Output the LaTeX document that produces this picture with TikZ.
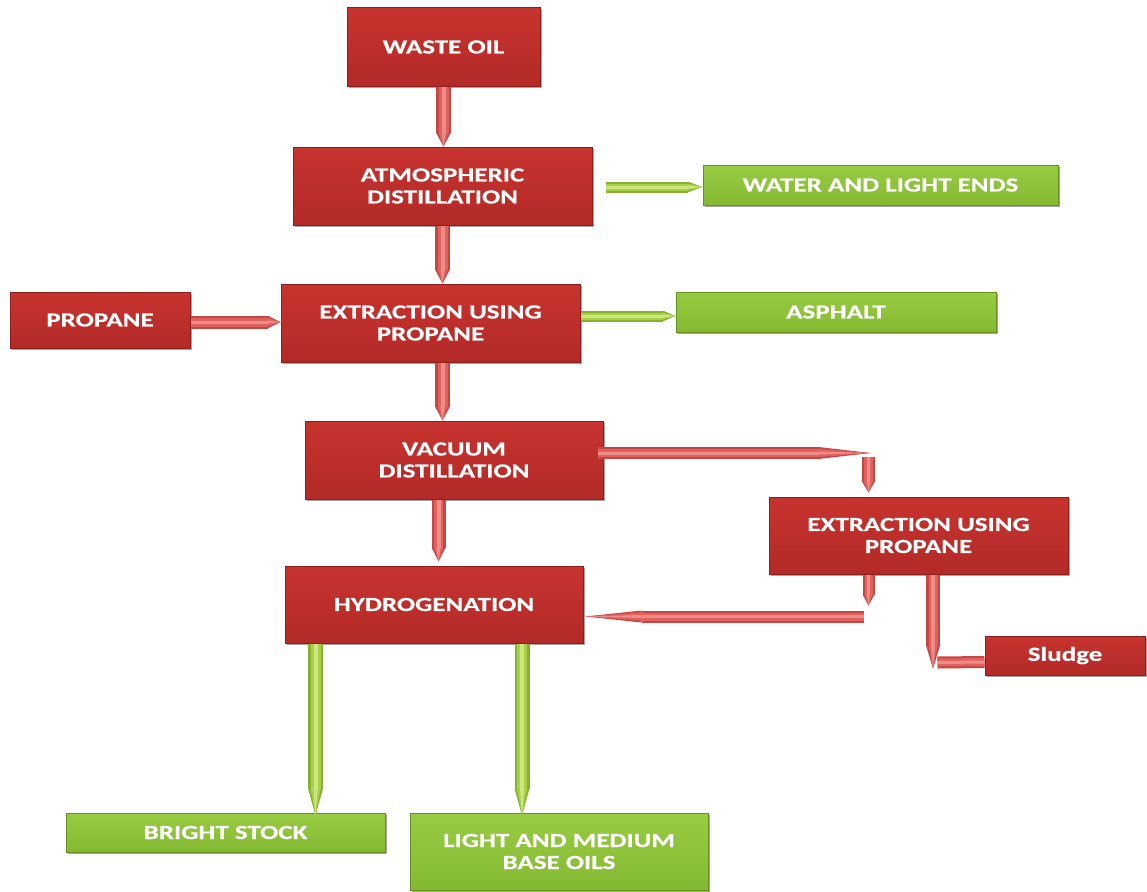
\documentclass[tikz,border=0pt]{standalone}
\usepackage{fontspec}
\setmainfont{Carlito}[FakeStretch=1.35, FakeBold=0.4]
\usetikzlibrary{arrows.meta,calc,shadows}

% box colours
\definecolor{rTop}{HTML}{C8332F}
\definecolor{rBot}{HTML}{B22A27}
\definecolor{rEdge}{HTML}{8E1F1C}
\definecolor{gTop}{HTML}{97CB42}
\definecolor{gBot}{HTML}{84BA32}
\definecolor{gEdge}{HTML}{66921F}
% pipe colours
\definecolor{rpEdge}{HTML}{C64643}
\definecolor{rpBody}{HTML}{E0625E}
\definecolor{rpHi}{HTML}{EE8D88}
\definecolor{gpEdge}{HTML}{86B230}
\definecolor{gpBody}{HTML}{A8D04A}
\definecolor{gpHi}{HTML}{CBE880}

\begin{document}
\begin{tikzpicture}[x=1pt,y=-1pt,
  boxbase/.style={rectangle, line width=1pt, text=white, align=center,
    inner sep=0pt, font=\bfseries\fontsize{20}{22}\selectfont,
    drop shadow={shadow xshift=2pt, shadow yshift=-2pt, opacity=0.35, fill=black}},
  redbox/.style={boxbase, draw=rEdge, top color=rTop, bottom color=rBot},
  greenbox/.style={boxbase, draw=gEdge, top color=gTop, bottom color=gBot},
  % pipe: #1 = outer width, #2 = body width, #3 = highlight width, #4 = tip length
  rpipe/.style n args={4}{line width=#1, draw=rpEdge,
    -{Triangle[length=#4, width=0pt 1, line width=0pt]},
    postaction={draw=rpBody, line width=#2},
    postaction={draw=rpHi, line width=#3}},
  gpipe/.style n args={4}{line width=#1, draw=gpEdge,
    -{Triangle[length=#4, width=0pt 1, line width=0pt]},
    postaction={draw=gpBody, line width=#2},
    postaction={draw=gpHi, line width=#3}},
  rbar/.style={line width=12, draw=rpEdge,
    postaction={draw=rpBody, line width=8},
    postaction={draw=rpHi, line width=3}}
]
\useasboundingbox (0,0) rectangle (1147,891);

% process boxes
\node[redbox, minimum width=193, minimum height=78] (waste) at (443.5,47) {WASTE OIL};
\node[redbox, minimum width=299, minimum height=78] (atmos) at (442.5,186) {ATMOSPHERIC\\DISTILLATION};
\node[greenbox, minimum width=355, minimum height=40] (water) at (880.5,185) {WATER AND LIGHT ENDS};
\node[redbox, minimum width=180, minimum height=56] (propane) at (100,320) {PROPANE};
\node[redbox, minimum width=299, minimum height=78] (ext1) at (430.5,323) {EXTRACTION USING\\PROPANE};
\node[greenbox, minimum width=320, minimum height=40] (asphalt) at (836,312) {ASPHALT};
\node[redbox, minimum width=298, minimum height=78] (vac) at (454,460) {VACUUM\\DISTILLATION};
\node[redbox, minimum width=299, minimum height=77] (ext2) at (918.5,535.5) {EXTRACTION USING\\PROPANE};
\node[redbox, minimum width=298, minimum height=77] (hydro) at (434,604.5) {HYDROGENATION};
\node[redbox, minimum width=160, minimum height=39] (sludge) at (1065,655.5) {Sludge};
\node[greenbox, minimum width=319, minimum height=39] (bright) at (225.5,832.5) {BRIGHT STOCK};
\node[greenbox, minimum width=298, minimum height=77] (light) at (559,851.5) {LIGHT AND MEDIUM\\BASE OILS};

% main column
\draw[rpipe={15}{10}{4}{14}] (waste.south) -- (waste.south |- atmos.north);
\draw[rpipe={15}{10}{4}{14}] (atmos.south) -- (atmos.south |- ext1.north);
\coordinate (c3) at ($(ext1.south)+(12,0)$);
\draw[rpipe={15}{10}{4}{14}] (c3) -- (c3 |- vac.north);
\coordinate (c4) at ($(vac.south)+(-15.5,0)$);
\draw[rpipe={14}{9}{4}{14}] (c4) -- ($(c4 |- hydro.north)+(0,-4)$);

% side streams
\draw[gpipe={11}{7}{3}{15}] ($(atmos.east)+(13,1)$) -- ($(water.west)+(0,2)$);
\draw[rpipe={13}{9}{3}{13}] ($(propane.east)+(0,2)$) -- ($(ext1.west)+(0,-1)$);
\draw[gpipe={11}{7}{3}{13}] ($(ext1.east)+(0,-7)$) -- ($(asphalt.west)+(0,4)$);

% vacuum residue to second extraction
\coordinate (turn) at (vac.east -| ext2.north);
\draw[rpipe={12}{8}{3}{52}] ($(vac.east)+(-6,-7)$) -- ($(turn)+(-48,-7)$);
\draw[rpipe={13}{9}{3}{11}] ($(turn)+(-50,-3)$) -- ($(ext2.north)+(-50,-4)$);

% second extraction back to hydrogenation
\draw[rpipe={12}{8}{3}{11}] ($(ext2.south)+(-50,0)$) -- ($(ext2.south)+(-50,31)$);
\draw[rpipe={12}{8}{3}{56}] ($(ext2.south)+(-55,42)$) -- ($(hydro.east)+(2,12)$);

% second extraction to sludge
\draw[rpipe={14}{9}{4}{23}] ($(ext2.south)+(14.5,0)$) -- ($(ext2.south)+(14.5,94)$);
\draw[rbar] ($(ext2.south)+(19,88)$) -- ($(sludge.west)+(0,6.5)$);

% products
\coordinate (hb) at ($(hydro.south)+(-118.5,0)$);
\draw[gpipe={15}{10}{4}{27}] (hb) -- ($(hb |- bright.north)+(0,3)$);
\coordinate (hl) at ($(hydro.south)+(88,0)$);
\draw[gpipe={15}{10}{4}{27}] (hl) -- ($(hl |- light.north)+(0,3)$);
\end{tikzpicture}
\end{document}
